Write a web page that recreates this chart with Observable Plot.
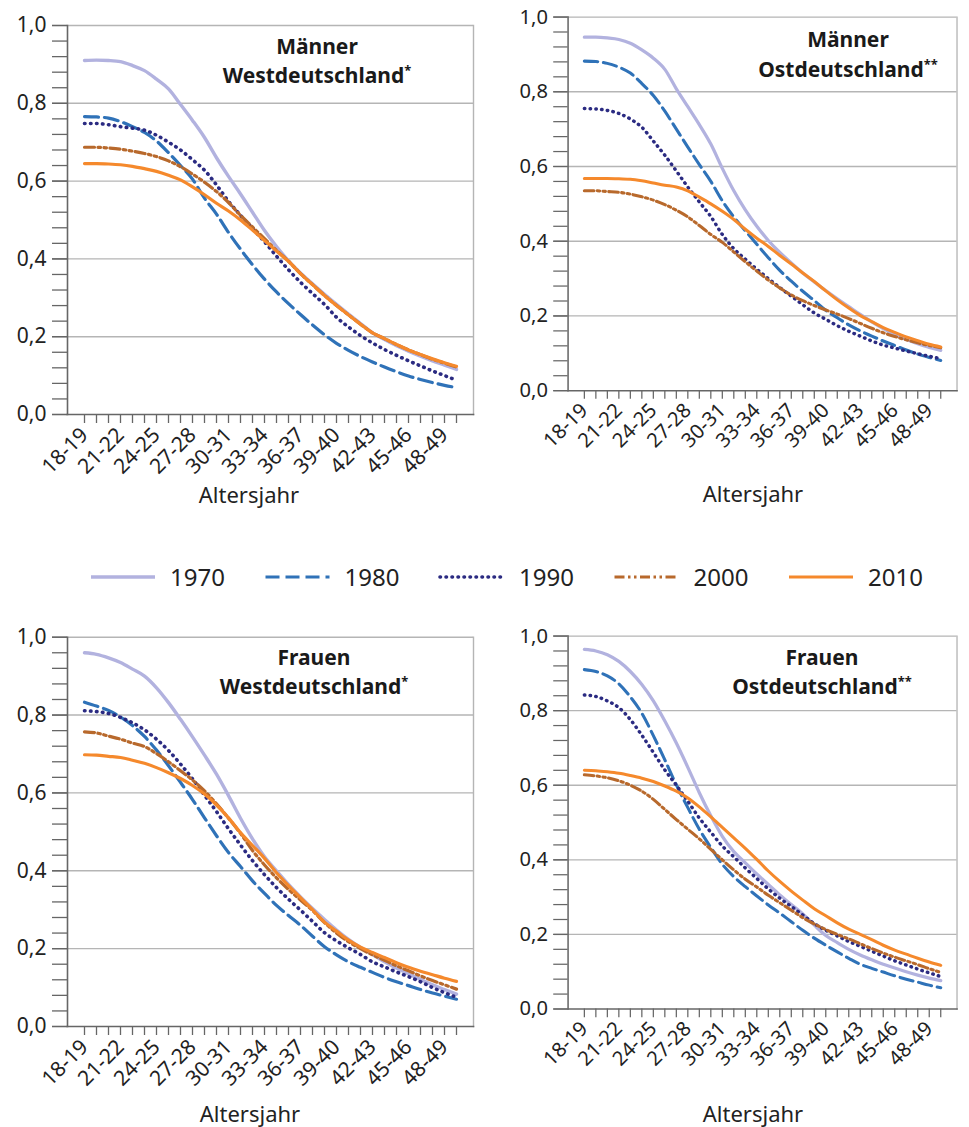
<!DOCTYPE html>
<html><head><meta charset="utf-8">
<script src="https://cdn.jsdelivr.net/npm/d3@7"></script>
<script src="https://cdn.jsdelivr.net/npm/@observablehq/plot@0.6"></script>
<style>
html,body{margin:0;padding:0;background:#fff;}
#root{position:relative;width:969px;height:1127px;overflow:hidden;font-family:"Noto Sans",sans-serif;color:#222;}
.panel{position:absolute;}
.panel svg{display:block;overflow:visible;}
#overlay{position:absolute;left:0;top:0;pointer-events:none;}
</style></head><body><div id="root"></div>
<script>
// ---- categories / tick labels ----
const ages = ["18-19","19-20","20-21","21-22","22-23","23-24","24-25","25-26","26-27","27-28","28-29","29-30","30-31","31-32","32-33","33-34","34-35","35-36","36-37","37-38","38-39","39-40","40-41","41-42","42-43","43-44","44-45","45-46","46-47","47-48","48-49","49-50"];
const xLabels = ["18-19","21-22","24-25","27-28","30-31","33-34","36-37","39-40","42-43","45-46","48-49"];
const yMajor = [0, 0.2, 0.4, 0.6, 0.8, 1.0];
const yMinor = [0,0.04,0.08,0.12,0.16,0.2,0.24,0.28,0.32,0.36,0.4,0.44,0.48,0.52,0.56,0.6,0.64,0.68,0.72,0.76,0.8,0.84,0.88,0.92,0.96,1.0];
const years = ["1970","1980","1990","2000","2010"];

// ---- Männer Westdeutschland ----
const mw1970 = [0.910,0.911,0.910,0.907,0.897,0.884,0.862,0.837,0.797,0.756,0.712,0.660,0.612,0.567,0.520,0.473,0.432,0.395,0.364,0.336,0.309,0.283,0.258,0.234,0.210,0.193,0.177,0.163,0.150,0.138,0.127,0.116];
const mw1980 = [0.766,0.765,0.762,0.753,0.740,0.725,0.703,0.673,0.640,0.605,0.556,0.515,0.468,0.425,0.385,0.348,0.315,0.285,0.257,0.230,0.205,0.183,0.165,0.149,0.135,0.122,0.110,0.099,0.090,0.082,0.075,0.069];
const mw1990 = [0.748,0.748,0.745,0.740,0.736,0.731,0.718,0.700,0.680,0.655,0.628,0.590,0.548,0.512,0.478,0.444,0.407,0.372,0.340,0.311,0.283,0.250,0.225,0.203,0.184,0.167,0.152,0.138,0.125,0.112,0.100,0.088];
const mw2000 = [0.687,0.687,0.685,0.682,0.677,0.671,0.663,0.652,0.637,0.618,0.597,0.573,0.545,0.512,0.482,0.452,0.422,0.394,0.362,0.334,0.306,0.280,0.256,0.232,0.210,0.195,0.180,0.166,0.154,0.142,0.132,0.122];
const mw2010 = [0.645,0.645,0.644,0.642,0.638,0.632,0.625,0.615,0.603,0.585,0.565,0.543,0.523,0.500,0.474,0.447,0.420,0.394,0.362,0.334,0.306,0.280,0.256,0.232,0.210,0.195,0.180,0.166,0.154,0.143,0.133,0.124];

// ---- Männer Ostdeutschland ----
const mo1970 = [0.946,0.946,0.944,0.940,0.930,0.912,0.890,0.860,0.808,0.760,0.712,0.660,0.595,0.535,0.484,0.440,0.402,0.370,0.342,0.315,0.291,0.268,0.246,0.225,0.204,0.184,0.166,0.150,0.137,0.126,0.116,0.108];
const mo1980 = [0.882,0.881,0.876,0.866,0.850,0.822,0.790,0.748,0.700,0.652,0.605,0.560,0.508,0.465,0.428,0.392,0.356,0.322,0.293,0.266,0.241,0.215,0.195,0.176,0.160,0.146,0.133,0.121,0.109,0.098,0.089,0.081];
const mo1990 = [0.755,0.754,0.750,0.742,0.727,0.705,0.668,0.630,0.588,0.545,0.505,0.466,0.418,0.380,0.352,0.325,0.300,0.276,0.253,0.230,0.208,0.191,0.174,0.159,0.146,0.133,0.122,0.114,0.106,0.099,0.092,0.086];
const mo2000 = [0.535,0.535,0.533,0.531,0.526,0.519,0.510,0.498,0.483,0.465,0.442,0.418,0.397,0.371,0.345,0.320,0.296,0.275,0.256,0.241,0.228,0.216,0.205,0.193,0.180,0.167,0.155,0.145,0.136,0.128,0.121,0.115];
const mo2010 = [0.568,0.568,0.568,0.567,0.566,0.562,0.556,0.550,0.545,0.535,0.518,0.500,0.480,0.458,0.432,0.408,0.386,0.362,0.339,0.315,0.292,0.267,0.243,0.221,0.201,0.185,0.169,0.156,0.144,0.134,0.124,0.117];

// ---- Frauen Westdeutschland ----
const fw1970 = [0.960,0.956,0.947,0.935,0.918,0.900,0.870,0.832,0.789,0.744,0.697,0.648,0.593,0.535,0.482,0.436,0.400,0.365,0.333,0.303,0.275,0.248,0.224,0.203,0.185,0.166,0.150,0.135,0.121,0.107,0.095,0.083];
const fw1980 = [0.833,0.823,0.812,0.795,0.773,0.745,0.710,0.670,0.627,0.583,0.536,0.490,0.447,0.411,0.374,0.342,0.311,0.285,0.260,0.232,0.205,0.184,0.166,0.152,0.139,0.126,0.115,0.105,0.095,0.086,0.078,0.070];
const fw1990 = [0.811,0.809,0.804,0.794,0.780,0.762,0.738,0.709,0.674,0.636,0.594,0.552,0.508,0.466,0.426,0.390,0.357,0.327,0.299,0.270,0.241,0.220,0.202,0.185,0.166,0.153,0.140,0.128,0.115,0.100,0.087,0.075];
const fw2000 = [0.757,0.754,0.746,0.738,0.728,0.719,0.701,0.680,0.657,0.633,0.605,0.572,0.535,0.496,0.452,0.415,0.382,0.352,0.325,0.298,0.267,0.240,0.218,0.200,0.184,0.170,0.156,0.143,0.130,0.118,0.107,0.096];
const fw2010 = [0.698,0.697,0.694,0.691,0.684,0.676,0.665,0.652,0.637,0.619,0.597,0.569,0.536,0.498,0.465,0.432,0.395,0.362,0.331,0.300,0.268,0.245,0.222,0.204,0.190,0.177,0.164,0.152,0.142,0.133,0.124,0.116];

// ---- Frauen Ostdeutschland ----
const fo1970 = [0.964,0.960,0.950,0.932,0.905,0.870,0.826,0.772,0.713,0.648,0.580,0.518,0.463,0.422,0.392,0.362,0.334,0.306,0.280,0.255,0.225,0.197,0.178,0.160,0.145,0.132,0.120,0.110,0.100,0.091,0.083,0.076];
const fo1980 = [0.910,0.905,0.893,0.872,0.837,0.793,0.733,0.668,0.601,0.540,0.482,0.433,0.388,0.355,0.328,0.303,0.279,0.257,0.234,0.211,0.190,0.171,0.153,0.136,0.120,0.109,0.099,0.089,0.080,0.072,0.064,0.057];
const fo1990 = [0.842,0.838,0.826,0.808,0.776,0.734,0.688,0.641,0.600,0.557,0.512,0.474,0.437,0.408,0.378,0.350,0.322,0.297,0.275,0.252,0.229,0.211,0.196,0.181,0.168,0.155,0.142,0.129,0.118,0.107,0.097,0.087];
const fo2000 = [0.628,0.625,0.620,0.612,0.600,0.584,0.562,0.535,0.508,0.482,0.456,0.428,0.400,0.373,0.348,0.327,0.305,0.285,0.265,0.245,0.228,0.213,0.200,0.188,0.175,0.162,0.150,0.139,0.129,0.119,0.108,0.098];
const fo2010 = [0.640,0.639,0.636,0.632,0.626,0.619,0.610,0.598,0.584,0.566,0.542,0.515,0.487,0.459,0.431,0.401,0.370,0.342,0.316,0.292,0.269,0.250,0.231,0.214,0.200,0.186,0.171,0.158,0.147,0.136,0.126,0.117];

const lineStyles = {
  "1970": {stroke:"#b2b2df", strokeWidth:3.4},
  "1980": {stroke:"#2f72b8", strokeWidth:3.2, strokeDasharray:"14,6"},
  "1990": {stroke:"#2b2b82", strokeWidth:3.6, strokeDasharray:"0.5,5.5", strokeLinecap:"round"},
  "2000": {stroke:"#b8692c", strokeWidth:3.2, strokeDasharray:"10,3.5,2.5,3.5,2.5,3.5"},
  "2010": {stroke:"#f5892c", strokeWidth:3.2}
};

const labelSet = new Set(xLabels);
const fmt = d => d.toFixed(1).replace(".", ",");

function makePanel(series, g) {
  const marks = [
    Plot.gridY(yMajor.filter(d => d > 0), {stroke:"#b5b5b5", strokeOpacity:1, strokeWidth:1.4}),
    Plot.frame({anchor:"right", stroke:"#b5b5b5", strokeWidth:1.4}),
    Plot.axisY(yMinor, {tickSize:15, tickFormat:() => "", stroke:"#666", strokeWidth:1.3, label:null}),
    Plot.axisY(yMajor, {tickSize:15, tickPadding:6, tickFormat:fmt, stroke:"#666", strokeWidth:1.3, fill:"#222", fontSize:21, label:null}),
    Plot.axisX({tickSize:9, tickPadding:8, tickRotate:-45, tickFormat:d => labelSet.has(d) ? d : "", stroke:"#666", strokeWidth:1.3, fill:"#222", fontSize:21, label:null}),
    Plot.frame({anchor:"left", stroke:"#666", strokeWidth:1.6}),
    Plot.frame({anchor:"bottom", stroke:"#666", strokeWidth:1.6})
  ];
  years.forEach((yr, k) => {
    const rows = ages.map((a, i) => ({age:a, value:series[k][i]}));
    marks.push(Plot.line(rows, {x:"age", y:"value", curve:"monotone-x", ...lineStyles[yr]}));
  });
  return Plot.plot({
    width:g.width, height:g.height,
    marginLeft:g.axisX, marginRight:g.width - g.frameRight,
    marginTop:g.yTop, marginBottom:g.height - g.yBottom,
    style:{background:"transparent", fontFamily:"Noto Sans", fontSize:"21px", color:"#222", overflow:"visible"},
    x:{type:"point", domain:ages, range:[g.x0, g.x0 + 31 * 12.71], label:null},
    y:{domain:[0,1], range:[g.yBottom, g.yTop], label:null},
    marks
  });
}

const root = document.getElementById("root");
const panels = [
  {left:0, top:0, series:[mw1970,mw1980,mw1990,mw2000,mw2010], g:{width:490, height:520, axisX:67, frameRight:473, x0:73, yTop:25, yBottom:414}},
  {left:490, top:0, series:[mo1970,mo1980,mo1990,mo2000,mo2010], g:{width:500, height:520, axisX:81, frameRight:487, x0:87, yTop:17.3, yBottom:407.3}},
  {left:0, top:610, series:[fw1970,fw1980,fw1990,fw2000,fw2010], g:{width:490, height:517, axisX:67, frameRight:473, x0:73, yTop:26.7, yBottom:416}},
  {left:490, top:610, series:[fo1970,fo1980,fo1990,fo2000,fo2010], g:{width:500, height:517, axisX:81, frameRight:487, x0:87, yTop:26.7, yBottom:416}}
];
panels.forEach(p => {
  const div = document.createElement("div");
  div.className = "panel";
  div.style.left = p.left + "px";
  div.style.top = p.top + "px";
  div.appendChild(makePanel(p.series, p.g));
  root.appendChild(div);
});

// ---- overlay: titles, axis titles, legend ----
const titles = [
  {l1:"Männer", l2:"Westdeutschland", star:"*", cx:317, y1:54, y2:83},
  {l1:"Männer", l2:"Ostdeutschland", star:"**", cx:848, y1:47, y2:77},
  {l1:"Frauen", l2:"Westdeutschland", star:"*", cx:314, y1:665, y2:694},
  {l1:"Frauen", l2:"Ostdeutschland", star:"**", cx:822, y1:665, y2:694}
];
const axisTitles = [{cx:249, y:503}, {cx:753, y:502}, {cx:250, y:1122}, {cx:753, y:1122}];
const NS = "http://www.w3.org/2000/svg";
const ov = document.createElementNS(NS, "svg");
ov.setAttribute("id", "overlay");
ov.setAttribute("width", 969); ov.setAttribute("height", 1127);
ov.setAttribute("font-family", "Noto Sans");
root.appendChild(ov);
function el(tag, attrs, text) {
  const e = document.createElementNS(NS, tag);
  for (const k in attrs) e.setAttribute(k, attrs[k]);
  if (text != null) e.textContent = text;
  ov.appendChild(e);
  return e;
}
titles.forEach(t => {
  el("text", {x:t.cx, y:t.y1, "text-anchor":"middle", "font-size":21, "font-weight":"bold", fill:"#1a1a1a"}, t.l1);
  const tx = el("text", {x:t.cx, y:t.y2, "text-anchor":"middle", "font-size":21, "font-weight":"bold", fill:"#1a1a1a"});
  const a = document.createElementNS(NS, "tspan"); a.textContent = t.l2; tx.appendChild(a);
  const b = document.createElementNS(NS, "tspan"); b.setAttribute("dy", -8); b.setAttribute("font-size", 13); b.textContent = t.star; tx.appendChild(b);
});
axisTitles.forEach(a => el("text", {x:a.cx, y:a.y, "text-anchor":"middle", "font-size":22, fill:"#222"}, "Altersjahr"));
years.forEach((yr, k) => {
  const x0 = 91 + k * 174.5;
  const s = lineStyles[yr];
  el("line", {x1:x0, x2:x0 + 64, y1:577, y2:577, stroke:s.stroke, "stroke-width":s.strokeWidth, "stroke-dasharray":s.strokeDasharray || "none", "stroke-linecap":s.strokeLinecap || "butt"});
  el("text", {x:x0 + 79, y:586, "font-size":24, fill:"#222"}, yr);
});
</script></body></html>
